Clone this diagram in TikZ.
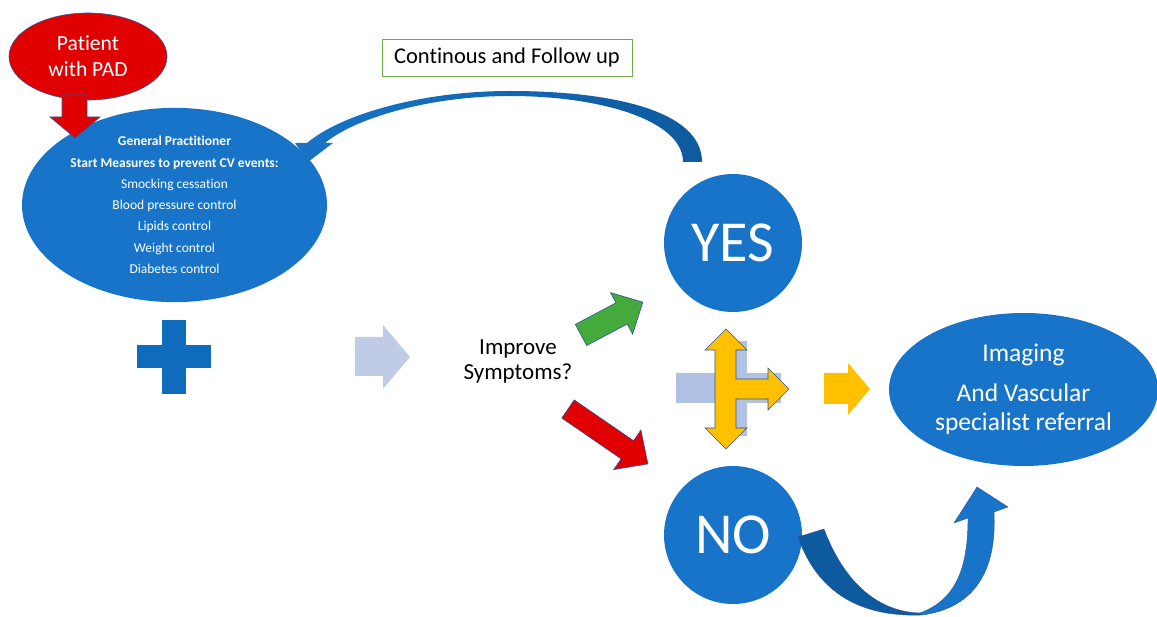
\documentclass[tikz,border=0pt]{standalone}
\usepackage{fontspec}
\setmainfont{Carlito}[Ligatures={NoCommon}]
\usetikzlibrary{shapes.geometric}

\definecolor{mainblue}{HTML}{1874C8}
\definecolor{darkblue}{HTML}{0E5A9E}
\definecolor{crossblue}{HTML}{0F6CBD}
\definecolor{lightblue}{HTML}{C0CBE6}
\definecolor{paleblue}{HTML}{B0C1E3}
\definecolor{edgeblue}{HTML}{2F5597}
\definecolor{patientred}{HTML}{E00000}
\definecolor{okgreen}{HTML}{44AA3C}
\definecolor{gold}{HTML}{FFC000}
\definecolor{boxgreen}{HTML}{70AD47}

\begin{document}
\begin{tikzpicture}[x=1pt,y=-1pt,
  blob/.style={ellipse, fill=mainblue, inner sep=0pt, text=white, align=center},
  answer/.style={circle, fill=mainblue, minimum size=138pt, inner sep=0pt, text=white,
    font=\fontsize{58}{60}\selectfont},
  edge/.style={draw=edgeblue, line width=0.6pt}]

\useasboundingbox (0,0) rectangle (1157,617);

% Paciente
\node[blob, fill=patientred, edge, minimum width=158pt, minimum height=87pt,
  font=\fontsize{21.6}{26}\selectfont] (patient) at (88,56.5) {Patient\\with PAD};

% Medico general
\node[blob, minimum width=305pt, minimum height=170pt,
  font=\fontsize{13.5}{21.3}\selectfont] (gp) at (174.5,205)
  {\textbf{General Practitioner}\\\textbf{Start Measures to prevent CV events:}\\
   Smocking cessation\\Blood pressure control\\Lipids control\\Weight control\\Diabetes control};

% Flecha roja
\path[fill=patientred, edge] (62,95) -- (87,95) -- (87,117) -- (100,117) -- (75,138)
  -- (50,117) -- (62,117) -- cycle;

% Cruz
\fill[crossblue] (137,345) rectangle (211,368);
\fill[crossblue] (162,320) rectangle (186,394);

% Flecha clara
\fill[lightblue] (355,337) -- (383,337) -- (383,325) -- (410,357) -- (383,389)
  -- (383,376) -- (355,376) -- cycle;

% Pregunta
\node[font=\fontsize{23}{25}\selectfont, align=center] (ask) at (518,361) {Improve\\Symptoms?};

% Flecha verde
\begin{scope}[shift={(581,335)}, rotate=28]
\path[fill=okgreen, edge] (0,-12) -- (46,-12) -- (46,-23.5) -- (70,0) -- (46,23.5)
  -- (46,12) -- (0,12) -- cycle;
\end{scope}

% Flecha roja diagonal
\begin{scope}[shift={(568,409)}, rotate=-34.5]
\path[fill=patientred, edge] (0,-11) -- (72,-11) -- (72,-24) -- (97,0) -- (72,24)
  -- (72,11) -- (0,11) -- cycle;
\end{scope}

% Respuestas
\node[answer] (yes) at (733,243) {YES};
\node[answer] (no) at (733,535) {NO};

% Cruz palida
\fill[paleblue] (676,373) rectangle (781,403);
\fill[paleblue] (715,341) rectangle (747,436);

% Flecha amarilla triple
\path[fill=gold, edge] (726,329) -- (747,350) -- (736,350) -- (736,379) -- (768,379)
  -- (768,368) -- (789,389) -- (768,410) -- (768,399) -- (736,399) -- (736,428)
  -- (747,428) -- (726,449) -- (705,428) -- (715,428) -- (715,350) -- (705,350) -- cycle;

% Flecha amarilla
\fill[gold] (824,373) -- (848,373) -- (848,363) -- (870,389) -- (848,415) -- (848,404)
  -- (824,404) -- cycle;

% Imagen
\node[blob, minimum width=269pt, minimum height=153pt,
  font=\fontsize{25.5}{29}\selectfont] (img) at (1023.5,389.5)
  {Imaging\\[11pt]And Vascular\\specialist referral};

% Seguimiento
\node[draw=boxgreen, line width=0.8pt, minimum width=250pt, minimum height=37pt,
  inner sep=0pt, font=\fontsize{22.5}{26}\selectfont] (follow) at (507,57.5)
  {Continous and Follow up};

% Flecha curva arriba
\shade[left color=mainblue, right color=darkblue]
  (702,162) .. controls (702,110) and (610,91) .. (510,91)
  .. controls (420,91) and (340,115) .. (307,143) -- (295,143) -- (308,162)
  -- (333,143) -- (325,143) .. controls (355,118) and (430,96) .. (510,96)
  .. controls (600,96) and (683,120) .. (683,162) -- cycle;

% Flecha curva abajo
\path[fill=darkblue, draw=edgeblue, line width=0.4pt]
  (798,537) .. controls (820,600) and (870,617) .. (922,615) -- (920,613)
  .. controls (880,612) and (845,585) .. (824,529) -- cycle;
\path[fill=mainblue, draw=edgeblue, line width=0.4pt]
  (922,615) .. controls (975,608) and (997,570) .. (994,512) -- (1008,507)
  -- (977,487) -- (954,523) -- (968,518) .. controls (968,570) and (955,600)
  .. (920,613) -- cycle;

\end{tikzpicture}
\end{document}
